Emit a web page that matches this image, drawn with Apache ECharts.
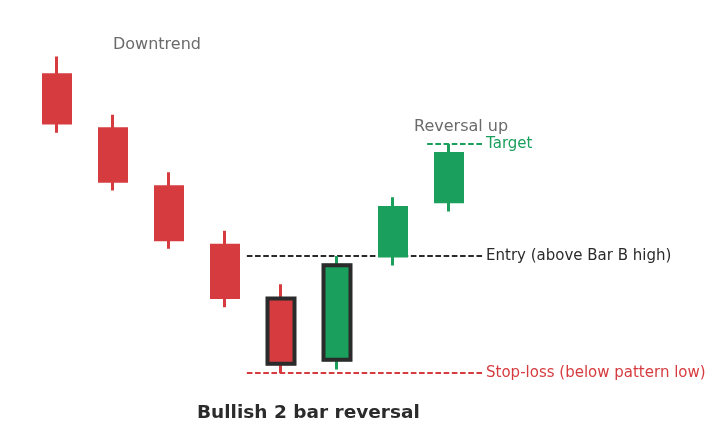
<!DOCTYPE html>
<html>
<head>
<meta charset="utf-8">
<script src="https://cdn.jsdelivr.net/npm/echarts@6/dist/echarts.min.js"></script>
<style>
  html, body { margin: 0; padding: 0; background: #fff; }
  #chart { width: 719px; height: 447px; }
</style>
</head>
<body>
<div id="chart"></div>
<script>
// bars in order, last slot left empty so the level lines can run past bar 8
const bars = ["1", "2", "3", "4", "A", "B", "7", "8", ""];
// [open, close, low, high]
const candles = [
  [108.4, 92.3, 89.1, 114.5],
  [90.4, 72.9, 69.8, 95.1],
  [71.1, 53.4, 50.4, 75.9],
  [51.6, 34.2, 30.9, 56.4],
  [33.8, 12.1, 9.0, 38.6],
  [13.4, 44.9, 10.2, 48.0],
  [48.0, 64.2, 44.8, 67.6],
  [66.1, 82.2, 62.8, 85.3]
];
const patternBars = [4, 5];

const entryLevel = 48.0;
const stopLevel = 9.0;
const targetLevel = 85.3;
const levelStart = 3.39;
const targetStart = 6.61;
const levelEnd = 7.59;

const RED = "#d63c3f";
const GREEN = "#1a9f5c";
const DARK = "#2b2b2b";
const FONT = "DejaVu Sans";

const chart = echarts.init(document.getElementById("chart"));

const mainData = candles.map((c, i) => {
  const up = c[1] > c[0];
  const col = up ? GREEN : RED;
  return {
    value: c,
    itemStyle: { color: col, color0: col, borderColor: col, borderColor0: col }
  };
});

// outline boxes for the two pattern bars (body only, no wick)
const patternData = candles.map((c, i) => {
  if (patternBars.indexOf(i) < 0) return "-";
  const up = c[1] > c[0];
  const col = up ? GREEN : RED;
  return {
    value: [c[0], c[1], Math.min(c[0], c[1]), Math.max(c[0], c[1])],
    itemStyle: { color: col, color0: col, borderColor: DARK, borderColor0: DARK }
  };
});

function level(y, x0, color, text) {
  return {
    type: "line",
    xAxisIndex: 1,
    data: [[x0, y], [levelEnd, y]],
    symbol: "none",
    silent: true,
    clip: false,
    lineStyle: { color: color, width: 2, type: [5.6, 2.6] },
    endLabel: {
      show: true,
      formatter: text,
      color: color,
      fontFamily: FONT,
      fontSize: 15,
      distance: 4
    },
    z: 1
  };
}

chart.setOption({
  animation: false,
  backgroundColor: "#fff",
  textStyle: { fontFamily: FONT },
  title: {
    text: "Bullish 2 bar reversal",
    left: 192,
    top: 399,
    textStyle: { fontFamily: FONT, fontSize: 18.5, fontWeight: "bold", color: DARK }
  },
  grid: { left: 29, top: 40, width: 504, height: 360 },
  xAxis: [
    { type: "category", data: bars, show: false },
    { type: "value", min: -0.5, max: 8.5, show: false }
  ],
  yAxis: { type: "value", min: 0, max: 120, show: false },
  graphic: [
    {
      type: "text",
      x: 113,
      y: 45,
      style: {
        text: "Downtrend",
        fill: "#6b6b6b",
        font: "16px 'DejaVu Sans'",
        textVerticalAlign: "middle",
        verticalAlign: "middle"
      }
    },
    {
      type: "text",
      x: 414,
      y: 127,
      style: {
        text: "Reversal up",
        fill: "#6b6b6b",
        font: "16px 'DejaVu Sans'",
        textVerticalAlign: "middle",
        verticalAlign: "middle"
      }
    }
  ],
  series: [
    level(entryLevel, levelStart, DARK, "Entry (above Bar B high)"),
    level(stopLevel, levelStart, RED, "Stop-loss (below pattern low)"),
    level(targetLevel, targetStart, GREEN, "Target"),
    {
      type: "candlestick",
      data: mainData,
      barWidth: 27,
      itemStyle: { borderWidth: 3 },
      z: 2
    },
    {
      type: "candlestick",
      data: patternData,
      barWidth: 28,
      itemStyle: { borderWidth: 4 },
      z: 3
    }
  ]
});
</script>
</body>
</html>
